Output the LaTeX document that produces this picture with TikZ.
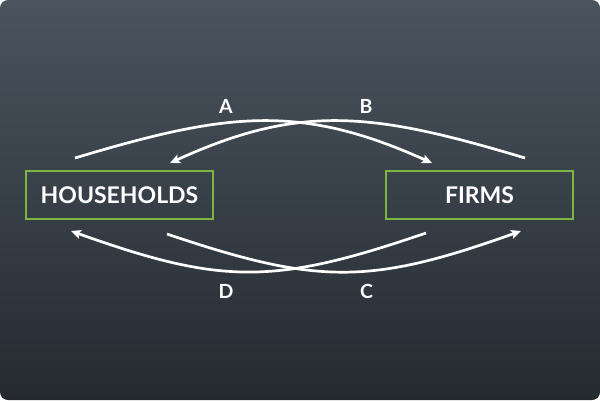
\documentclass[tikz,border=0pt]{standalone}
\usepackage{fontspec}
\setmainfont{Lato}
\usetikzlibrary{arrows.meta}
\definecolor{bgtop}{RGB}{74,84,95}
\definecolor{bgbot}{RGB}{37,42,48}
\definecolor{boxgreen}{RGB}{122,182,64}
\begin{document}
\begin{tikzpicture}[x=1pt,y=-1pt,
  agent/.style={draw=boxgreen,line width=1.6pt,minimum width=187pt,minimum height=48pt,inner sep=0pt,text=white,font=\fontsize{23}{26}\selectfont\bfseries},
  flow/.style={white,line width=2.7pt,-{Stealth[length=10pt,width=9pt,inset=2pt]}},
  lbl/.style={text=white,font=\fontsize{19.5}{22}\selectfont\bfseries,inner sep=0pt}]
\useasboundingbox (0,0) rectangle (600,400);
\fill[white] (0,0) rectangle (600,400);
\shade[top color=bgtop,bottom color=bgbot,rounded corners=8pt] (0,0) rectangle (600,400);
\node[agent] (hh) at (119.5,195) {HOUSEHOLDS};
\node[agent] (fi) at (479.5,195) {FIRMS};
\coordinate (a0) at (75,158);
\coordinate (a1) at (432,163);
\coordinate (b0) at (525,158);
\coordinate (b1) at (170,163);
\coordinate (c0) at (167,234);
\coordinate (c1) at (521,231);
\coordinate (d0) at (426,233);
\coordinate (d1) at (71,231);
\draw[flow] (a0) .. controls (225.8,112.8) and (298.5,102.9) .. (a1);
\draw[flow] (b0) .. controls (374.2,112.8) and (301.5,102.9) .. (b1);
\draw[flow] (c0) .. controls (318,285) and (370,285) .. (c1);
\draw[flow] (d0) .. controls (274,285) and (222,285) .. (d1);
\node[lbl] (la) at (226,106.5) {A};
\node[lbl] (lb) at (366,106.5) {B};
\node[lbl] (ld) at (226,291.5) {D};
\node[lbl] (lc) at (366.5,291.5) {C};
\end{tikzpicture}
\end{document}
